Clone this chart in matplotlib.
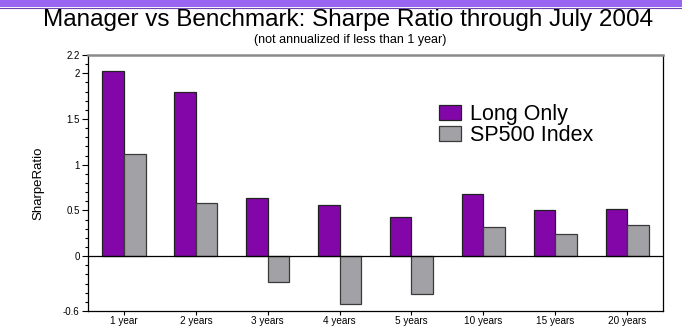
import numpy as np
import matplotlib
matplotlib.use("Agg")
import matplotlib.pyplot as plt
from matplotlib.patches import Rectangle
from matplotlib.ticker import FixedLocator, MultipleLocator

plt.rcParams['font.family'] = ['Liberation Sans', 'DejaVu Sans']

periods = ["1 year", "2 years", "3 years", "4 years", "5 years",
           "10 years", "15 years", "20 years"]
long_only = [2.02, 1.80, 0.64, 0.56, 0.43, 0.675, 0.50, 0.515]
sp500 = [1.12, 0.58, -0.28, -0.525, -0.41, 0.32, 0.245, 0.34]
ytick_vals = [-0.6, 0, 0.5, 1, 1.5, 2, 2.2]
ytick_labels = ["-0.6", "0", "0.5", "1", "1.5", "2", "2.2"]

purple = "#8306a8"
grey = "#a2a1a6"

fig = plt.figure(figsize=(6.82, 3.26), dpi=100)

# purple strip along the top
fig.patches.append(Rectangle((0, 1 - 7 / 326), 1, 7 / 326, transform=fig.transFigure,
                             facecolor="#9966f2", edgecolor="none"))
fig.lines.append(plt.Line2D([0, 1], [1 - 7.5 / 326] * 2, transform=fig.transFigure,
                            color="#6a44b0", lw=0.8))

# axes box: x 88..663, y 55..311 in pixels
ax = fig.add_axes([88 / 682, 1 - 311 / 326, 575 / 682, 256 / 326])

x = np.arange(len(periods))
w = 0.3
ax.bar(x - w / 2, long_only, w, color=purple, edgecolor="#222222", linewidth=0.9,
       label="Long Only")
ax.bar(x + w / 2, sp500, w, color=grey, edgecolor="#3a3a3a", linewidth=0.9,
       label="SP500 Index")
ax.axhline(0, color="black", lw=0.9)

ax.set_xlim(-0.5, 7.5)
ax.set_ylim(-0.6, 2.2)
ax.set_xticks(x)
ax.set_xticklabels(periods, fontsize=7.2)
ax.yaxis.set_major_locator(FixedLocator(ytick_vals))
ax.set_yticklabels(ytick_labels, fontsize=7)
ax.yaxis.set_minor_locator(MultipleLocator(0.1))
ax.tick_params(axis="y", which="major", length=4, width=0.8, pad=2)
ax.tick_params(axis="y", which="minor", length=2.5, width=0.8)
ax.tick_params(axis="x", length=3, width=0.8, pad=0.5)

for s in ["left", "bottom", "right"]:
    ax.spines[s].set_color("black")
    ax.spines[s].set_linewidth(0.9)
ax.spines["top"].set_color("#8a8a8a")
ax.spines["top"].set_linewidth(1.8)

ax.set_ylabel("SharpeRatio", fontsize=9.5, labelpad=13)

leg = ax.legend(loc="upper left", bbox_to_anchor=(0.592, 0.85), fontsize=15.5,
                frameon=False, handlelength=1.0, handleheight=0.7,
                handletextpad=0.42, labelspacing=0.0, borderpad=0)

fig.text(348 / 682, 1 - 20 / 326, "Manager vs Benchmark: Sharpe Ratio through July 2004",
         ha="center", va="center", fontsize=17.5)
fig.text(350 / 682, 1 - 40 / 326, "(not annualized if less than 1 year)",
         ha="center", va="center", fontsize=9)

fig.savefig("out.png", dpi=100)
